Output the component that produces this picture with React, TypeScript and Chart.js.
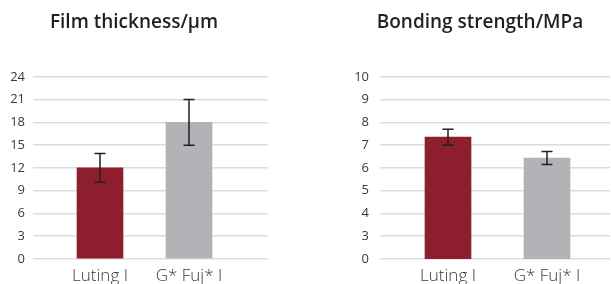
import React, { useEffect, useRef } from "react";
import { Chart, registerables } from "chart.js";

Chart.register(...registerables);

const categories = ["Luting I", "G* Fuj* I"];
const colors = ["#8d1e2d", "#b2b3b7"];

const filmTitle = "Film thickness/μm";
const filmValues = [12, 18];
const filmErrLow = [10.1, 15];
const filmErrHigh = [13.9, 21];

const bondTitle = "Bonding strength/MPa";
const bondValues = [7.35, 6.43];
const bondErrLow = [7.0, 6.15];
const bondErrHigh = [7.7, 6.72];

const FONT = "'Open Sans', 'Noto Sans', sans-serif";

const errorBarPlugin = {
  id: "errorBars",
  afterDatasetsDraw(chart: any, _args: any, opts: any) {
    const { ctx } = chart;
    const xs = chart.scales.x;
    const ys = chart.scales.y;
    ctx.save();
    ctx.strokeStyle = "#231f20";
    ctx.lineWidth = 1.5;
    (opts.low as number[]).forEach((lo, i) => {
      const hi = (opts.high as number[])[i];
      const x = xs.getPixelForValue(i);
      const y1 = ys.getPixelForValue(lo);
      const y2 = ys.getPixelForValue(hi);
      ctx.beginPath();
      ctx.moveTo(x, y1);
      ctx.lineTo(x, y2);
      ctx.moveTo(x - 5.5, y1);
      ctx.lineTo(x + 5.5, y1);
      ctx.moveTo(x - 5.5, y2);
      ctx.lineTo(x + 5.5, y2);
      ctx.stroke();
    });
    ctx.restore();
  },
};

type Cfg = {
  title: string;
  values: number[];
  low: number[];
  high: number[];
  yMin: number;
  yMax: number;
  yStep: number;
  yLabel: (v: number) => string;
  xMin: number;
  xMax: number;
  yAxisWidth: number;
  tickPad: number;
  rightPad: number;
};

function BarPanel({ cfg, width, left }: { cfg: Cfg; width: number; left: number }) {
  const ref = useRef<HTMLCanvasElement>(null);
  useEffect(() => {
    const chart = new Chart(ref.current!, {
      type: "bar",
      data: {
        datasets: [
          {
            data: cfg.values.map((v, i) => ({ x: i, y: v })),
            backgroundColor: colors,
            barThickness: 46,
          },
        ],
      },
      plugins: [errorBarPlugin],
      options: {
        responsive: false,
        animation: false,
        layout: { padding: { left: 0, right: cfg.rightPad, top: 0, bottom: 0 } },
        plugins: {
          legend: { display: false },
          tooltip: { enabled: false },
          title: {
            display: true,
            text: cfg.title,
            color: "#231f20",
            font: { family: FONT, size: 19, weight: "600" },
            padding: { top: 11, bottom: 43 },
          },
          errorBars: { low: cfg.low, high: cfg.high },
        } as any,
        scales: {
          x: {
            type: "linear",
            min: cfg.xMin,
            max: cfg.xMax,
            offset: false,
            grid: { display: false, drawTicks: false, offset: false },
            border: { display: false },
            afterBuildTicks: (s: any) => {
              s.ticks = categories.map((_, i) => ({ value: i }));
            },
            afterFit: (s: any) => {
              s.height = 25;
            },
            ticks: {
              autoSkip: false,
              maxRotation: 0,
              padding: 7,
              color: "#3a3a3a",
              font: { family: FONT, size: 17, weight: "300" },
              callback: (v: any) => categories[Math.round(Number(v))] ?? "",
            },
          },
          y: {
            type: "linear",
            min: cfg.yMin,
            max: cfg.yMax,
            grid: { color: "#dcdcdc", lineWidth: 1.5, drawTicks: false },
            border: { display: false },
            afterFit: (s: any) => {
              s.width = cfg.yAxisWidth;
            },
            ticks: {
              stepSize: cfg.yStep,
              padding: cfg.tickPad,
              color: "#3a3a3a",
              font: { family: FONT, size: 13 },
              callback: (v: any) => cfg.yLabel(Number(v)),
            },
          },
        },
      },
    } as any);
    return () => chart.destroy();
  }, [cfg]);
  return (
    <div style={{ position: "absolute", left, top: 0, width, height: 284 }}>
      <canvas ref={ref} width={width} height={284} style={{ width, height: 284 }} />
    </div>
  );
}

const filmCfg: Cfg = {
  title: filmTitle,
  values: filmValues,
  low: filmErrLow,
  high: filmErrHigh,
  yMin: 0,
  yMax: 24,
  yStep: 3,
  yLabel: (v) => String(v),
  xMin: -67 / 89,
  xMax: 1 + 79 / 89,
  yAxisWidth: 33,
  tickPad: 8,
  rightPad: 32,
};

const bondCfg: Cfg = {
  title: bondTitle,
  values: bondValues,
  low: bondErrLow,
  high: bondErrHigh,
  yMin: 2,
  yMax: 10,
  yStep: 1,
  yLabel: (v) => (v === 2 ? "0" : String(v)),
  xMin: -68 / 99,
  xMax: 1 + 63 / 99,
  yAxisWidth: 30,
  tickPad: 11,
  rightPad: 1,
};

export default function App() {
  return (
    <div style={{ position: "absolute", left: 0, top: 0, width: 611, height: 284, background: "#fff" }}>
      <BarPanel cfg={filmCfg} width={300} left={0} />
      <BarPanel cfg={bondCfg} width={261} left={350} />
    </div>
  );
}
